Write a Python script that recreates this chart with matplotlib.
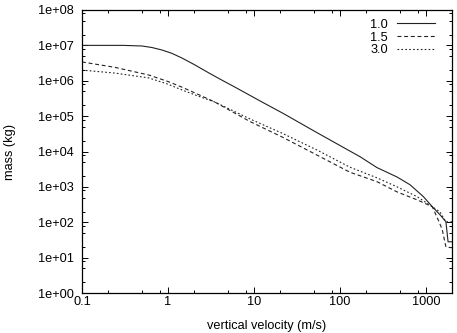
import numpy as np
import matplotlib
matplotlib.use("Agg")
import matplotlib.pyplot as plt
from matplotlib.ticker import LogLocator, NullFormatter, FixedLocator

plt.rcParams['font.family'] = ['Liberation Sans', 'DejaVu Sans']

# velocity (m/s) and mass (kg)
v_10 = [0.1, 0.3, 0.5, 0.65, 0.85, 1.1, 1.45, 2.0, 3.0, 4.2, 6.0, 12.4, 21.7, 54, 171, 269, 460, 650, 930, 1180, 1450, 1700, 1800, 2000]
m_10 = [1.0e7, 1.0e7, 9.6e6, 8.7e6, 7.4e6, 6.0e6, 4.4e6, 2.9e6, 1.65e6, 1.05e6, 6.6e5, 2.5e5, 1.2e5, 3.4e4, 7.1e3, 3.5e3, 1.9e3, 1.15e3, 530, 275, 163, 103, 28, 28]

v_15 = [0.1, 0.24, 0.6, 1.0, 1.45, 2.3, 3.5, 9.0, 21.7, 54, 130, 269, 460, 785, 1180, 1380, 1540, 1700, 2000]
m_15 = [3.4e6, 2.4e6, 1.45e6, 9.5e5, 6.6e5, 4.0e5, 2.5e5, 7.0e4, 2.5e4, 7.9e3, 2.6e3, 1.4e3, 720, 430, 275, 118, 62, 20, 19]

v_30 = [0.1, 0.24, 0.6, 1.0, 1.45, 2.3, 3.5, 9.0, 21.7, 54, 130, 269, 460, 785, 1180, 1450, 1700, 2000]
m_30 = [2.0e6, 1.65e6, 1.2e6, 8.0e5, 5.5e5, 3.6e5, 2.5e5, 8.3e4, 3.2e4, 1.1e4, 3.6e3, 1.8e3, 1.0e3, 530, 275, 195, 103, 103]

yticks = [1e0, 1e1, 1e2, 1e3, 1e4, 1e5, 1e6, 1e7, 1e8]
ytick_labels = ["1e+00", "1e+01", "1e+02", "1e+03", "1e+04", "1e+05", "1e+06", "1e+07", "1e+08"]
xticks = [0.1, 1, 10, 100, 1000]
xtick_labels = ["0.1", "1", "10", "100", "1000"]

fig = plt.figure(figsize=(4.57, 3.33), dpi=100)
ax = fig.add_axes([82/457, 40/333, 370/457, 283/333])

lw = 0.8
ax.plot(v_10, m_10, color="#222222", lw=lw, label="1.0")
ax.plot(v_15, m_15, color="#222222", lw=lw, dashes=(3.5, 2.5), label="1.5")
ax.plot(v_30, m_30, color="#222222", lw=lw, dashes=(1.5, 2), label="3.0")

ax.set_xscale("log")
ax.set_yscale("log")
ax.set_xlim(0.1, 2000)
ax.set_ylim(1, 1e8)

ax.xaxis.set_major_locator(FixedLocator(xticks))
ax.set_xticklabels(xtick_labels)
ax.yaxis.set_major_locator(FixedLocator(yticks))
ax.set_yticklabels(ytick_labels)
ax.xaxis.set_minor_locator(LogLocator(base=10, subs=(2, 5, 8), numticks=20))
ax.yaxis.set_minor_locator(LogLocator(base=10, subs=(2, 5, 8), numticks=20))
ax.xaxis.set_minor_formatter(NullFormatter())
ax.yaxis.set_minor_formatter(NullFormatter())

ax.tick_params(which="both", direction="in", top=True, right=True, width=0.7, labelsize=9.2)
ax.tick_params(which="major", length=4.5)
ax.tick_params(which="minor", length=2.5)
ax.tick_params(axis="x", pad=2)
ax.tick_params(axis="y", pad=6)
for s in ax.spines.values():
    s.set_linewidth(0.9)

ax.set_xlabel("vertical velocity (m/s)", fontsize=9.2, labelpad=8.5)
ax.set_ylabel("mass (kg)", fontsize=9.2, labelpad=16)

ax.legend(loc="upper right", bbox_to_anchor=(1 - 8/370, 1), frameon=False,
          markerfirst=False, fontsize=9.2, handlelength=3.0, handletextpad=0.7,
          labelspacing=0.05, borderaxespad=0.4, borderpad=0.3)

fig.savefig("out.png", dpi=100)
